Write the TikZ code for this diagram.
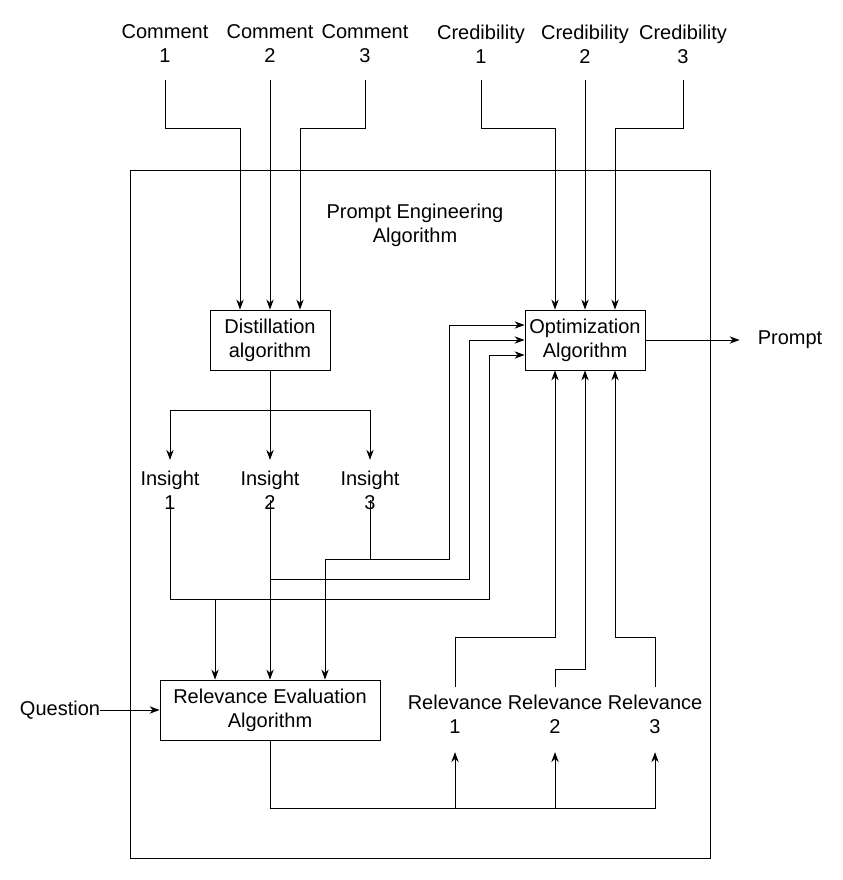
\documentclass[tikz,border=0pt]{standalone}
\usepackage{fontspec}
\setmainfont{Liberation Sans}
\usetikzlibrary{calc,arrows.meta}
\begin{document}
\begin{tikzpicture}[
                            x=0.75pt, y=-0.75pt,
                            >={Stealth[length=7.5pt,width=5.5pt]},
                            line width=0.65pt,
                            every node/.style={font=\fontsize{15}{18}\selectfont, align=center},
                            block/.style={rectangle, draw, minimum width=90pt, minimum height=45pt, inner sep=2pt},
                            wide block/.style={block, minimum width=165pt}
                        ]
                        \useasboundingbox (0,0) rectangle (842,880);
                        % Frame
                        \draw (130,170) rectangle (710,858);
                        \node (title) at (415,225) {Prompt Engineering\\Algorithm};

                        % Inputs
                        \node (c1) at (165,44) {Comment\\1};
                        \node (c2) at (270,44) {Comment\\2};
                        \node (c3) at (365,44) {Comment\\3};
                        \node (cr1) at (481,44) {Credibility\\1};
                        \node (cr2) at (585,44) {Credibility\\2};
                        \node (cr3) at (683,44) {Credibility\\3};

                        % Blocks
                        \node [block] (DA) at (270,340) {Distillation\\algorithm};
                        \node [block] (OA) at (585,340) {Optimization\\Algorithm};
                        \node [wide block] (RE) at (270,710) {Relevance Evaluation\\Algorithm};
                        \node (Q) at (60,710) {Question};
                        \node (P) at (790,340) {Prompt};
                        \node (i1) at (170,490) {Insight\\1};
                        \node (i2) at (270,490) {Insight\\2};
                        \node (i3) at (370,490) {Insight\\3};
                        \node (rv1) at (455,714) {Relevance\\1};
                        \node (rv2) at (555,714) {Relevance\\2};
                        \node (rv3) at (655,714) {Relevance\\3};

                        % Bend levels
                        \coordinate (bend) at (0,128);
                        \coordinate (fork) at (0,410);
                        \coordinate (lvl3) at (0,559);
                        \coordinate (lvl2) at (0,579);
                        \coordinate (lvl1) at (0,599);
                        \coordinate (rvA) at (0,637);
                        \coordinate (rvB) at (0,669);
                        \coordinate (base) at (0,808);
                        \coordinate (REin1) at ($(RE.north)+(-55,0)$);
                        \coordinate (REin3) at ($(RE.north)+(55,0)$);

                        % Connections
                        \draw [->, shorten <=9pt] (c1.south) -- (c1.south |- bend) -| ($(DA.north)+(-30,0)$);
                        \draw [->, shorten <=9pt] (c2.south) -- (DA.north);
                        \draw [->, shorten <=9pt] (c3.south) -- (c3.south |- bend) -| ($(DA.north)+(30,0)$);
                        \draw [->, shorten <=9pt] (cr1.south) -- (cr1.south |- bend) -| ($(OA.north)+(-30,0)$);
                        \draw [->, shorten <=9pt] (cr2.south) -- (OA.north);
                        \draw [->, shorten <=9pt] (cr3.south) -- (cr3.south |- bend) -| ($(OA.north)+(30,0)$);

                        \draw [->, shorten >=4.5pt] (DA.south) -- (DA.south |- fork) -| (i1.north);
                        \draw [->, shorten >=4.5pt] (DA.south) -- (i2.north);
                        \draw [->, shorten >=4.5pt] (DA.south) -- (DA.south |- fork) -| (i3.north);

                        \draw [->, shorten <=7.5pt] (i1.center) -- (i1 |- lvl1) -| ($(OA.west)+(-35,15)$) -- ($(OA.west)+(0,15)$);
                        \draw [->, shorten <=7.5pt] (i2.center) -- (i2 |- lvl2) -| ($(OA.west)+(-55,0)$) -- (OA.west);
                        \draw [->, shorten <=7.5pt] (i3.center) -- (i3 |- lvl3) -| ($(OA.west)+(-75,-15)$) -- ($(OA.west)+(0,-15)$);
                        \draw [->] (REin1 |- lvl1) -- (REin1);
                        \draw [->, shorten <=7.5pt] (i2.center) -- (RE.north);
                        \draw [->] (i3 |- lvl3) -| (REin3);

                        \draw [->, shorten <=-4pt] (Q.east) -- (RE.west);
                        \draw [->, shorten >=10.5pt] (RE.south) -- (RE.south |- base) -| (rv1.south);
                        \draw [->, shorten >=10.5pt] (RE.south) -- (RE.south |- base) -| (rv2.south);
                        \draw [->, shorten >=10.5pt] (RE.south) -- (RE.south |- base) -| (rv3.south);

                        \draw [->, shorten <=2pt] (rv1.north) -- (rv1 |- rvA) -| ($(OA.south)+(-30,0)$);
                        \draw [->, shorten <=2pt] (rv2.north) -- (rv2 |- rvB) -| (OA.south);
                        \draw [->, shorten <=2pt] (rv3.north) -- (rv3 |- rvA) -| ($(OA.south)+(30,0)$);
                        \draw [->, shorten >=10pt] (OA.east) -- (P.west);
                    \end{tikzpicture}
\end{document}
